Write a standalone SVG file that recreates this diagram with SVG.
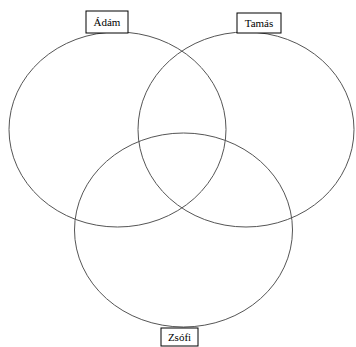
<svg xmlns="http://www.w3.org/2000/svg" width="356" height="347" viewBox="0 0 356 347">
<style>
.c{fill:none;stroke:#555;stroke-width:1}
.b{fill:#fff;stroke:#000;stroke-width:1}
.t{font-family:"Liberation Serif",serif;font-size:11px;fill:#000;text-anchor:middle}
</style>
<rect width="356" height="347" fill="#fff"/>
<g id="set-adam"><ellipse class="c" cx="117.5" cy="129.5" rx="108.5" ry="97.5"/></g>
<g id="set-tamas"><ellipse class="c" cx="246" cy="129.5" rx="108" ry="97.5"/></g>
<g id="set-zsofi"><ellipse class="c" cx="183.5" cy="230" rx="109" ry="97"/></g>
<g id="label-adam"><rect class="b" x="86" y="11" width="42" height="22"/><text class="t" x="107" y="26">Ádám</text></g>
<g id="label-tamas"><rect class="b" x="237" y="13" width="44" height="20"/><text class="t" x="259" y="27">Tamás</text></g>
<g id="label-zsofi"><rect class="b" x="161" y="328" width="37" height="18"/><text class="t" x="179.5" y="341">Zsófi</text></g>
</svg>
